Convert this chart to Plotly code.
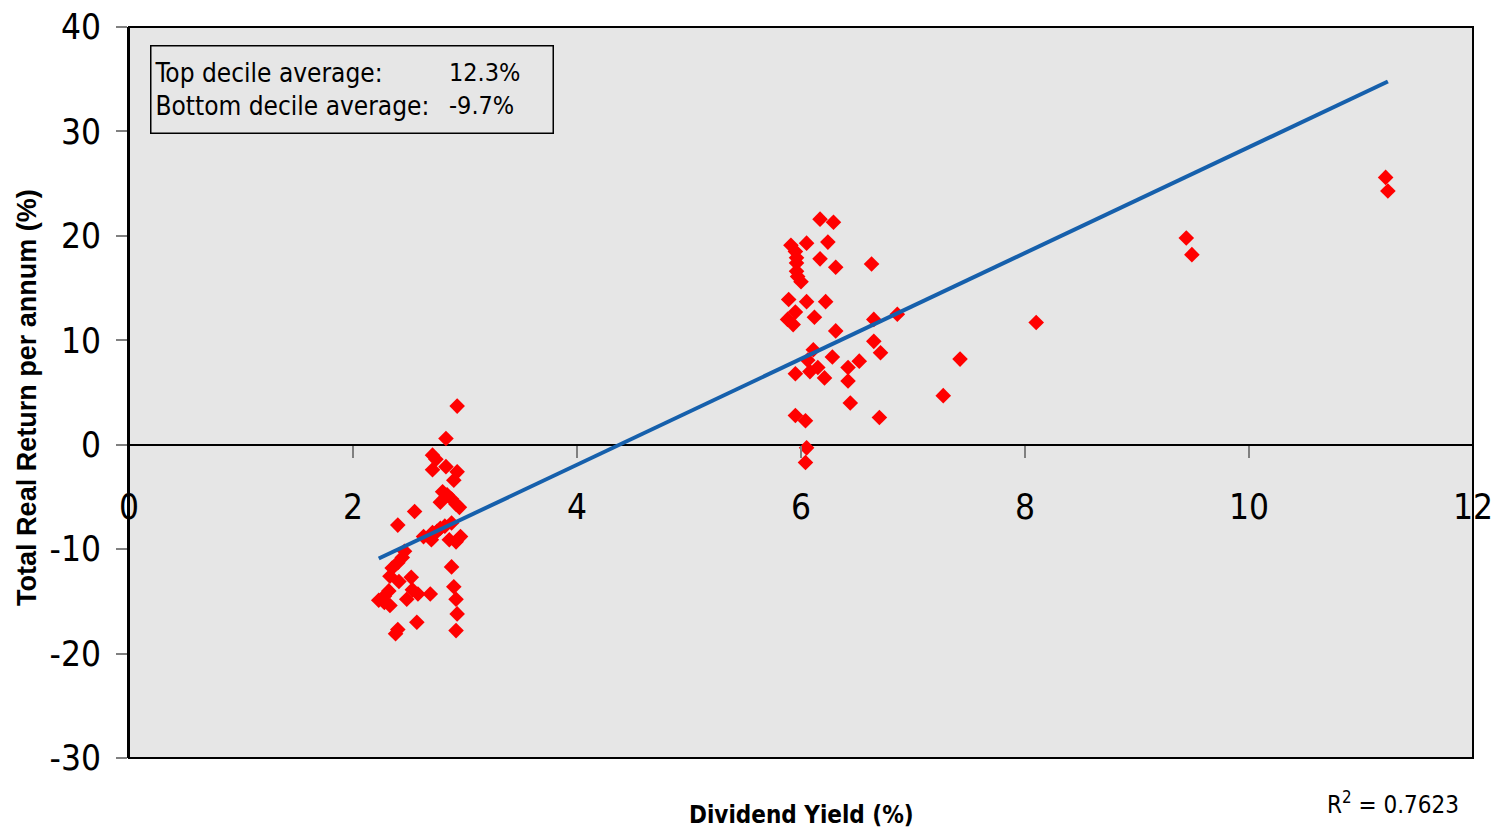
import plotly.graph_objects as go

# Dividend yield (%) and subsequent total real return per annum (%)
low_yield = [2.93, 2.83, 2.71, 2.74, 2.83, 2.71, 2.93, 2.90, 2.80, 2.84, 2.88, 2.78,
             2.92, 2.95, 2.55, 2.40, 2.88, 2.78, 2.71, 2.63, 2.70, 2.86, 2.96, 2.92,
             2.46, 2.44, 2.40, 2.35, 2.88, 2.33, 2.52, 2.41, 2.90, 2.53, 2.58, 2.69,
             2.32, 2.28, 2.23, 2.48, 2.92, 2.33, 2.28, 2.93, 2.57, 2.40, 2.92, 2.38,
             2.82, 2.75]
low_return = [3.7, 0.6, -1.0, -1.4, -2.1, -2.4, -2.6, -3.4, -4.5, -4.8, -5.2, -5.5,
              -5.7, -6.0, -6.4, -7.7, -7.5, -8.0, -8.4, -8.8, -9.1, -9.1, -8.8, -9.3,
              -10.2, -10.8, -11.3, -11.8, -11.7, -12.6, -12.7, -13.1, -13.6, -13.9, -14.3, -14.3,
              -14.0, -14.5, -14.9, -14.8, -14.8, -15.4, -15.1, -16.2, -17.0, -17.7, -17.8, -18.1,
              -7.8, -8.3]

mid_yield = [6.17, 6.29, 5.91, 6.05, 6.24, 5.95, 5.96, 6.17, 5.96, 6.31, 6.63, 5.96,
             5.97, 6.00, 5.89, 6.05, 6.22, 5.95, 5.88, 5.93, 6.12, 6.31, 6.65, 6.86,
             6.11, 6.06, 5.95, 6.08, 6.15, 6.21, 6.28, 6.42, 6.42, 6.52, 6.65, 6.71,
             6.44, 5.95, 6.04, 6.70, 6.05, 6.04]
mid_return = [21.6, 21.3, 19.1, 19.3, 19.4, 18.5, 17.9, 17.8, 17.4, 17.0, 17.3, 16.6,
              16.1, 15.6, 13.9, 13.7, 13.7, 12.7, 12.0, 11.5, 12.2, 10.9, 12.0, 12.5,
              9.1, 8.1, 6.8, 7.0, 7.4, 6.4, 8.4, 7.4, 6.1, 8.0, 9.9, 8.8,
              4.0, 2.8, 2.3, 2.6, -0.3, -1.7]

high_yield = [7.27, 7.42, 8.10, 9.44, 9.49, 11.22, 11.24]
high_return = [4.7, 8.2, 11.7, 19.8, 18.2, 25.6, 24.3]

# Linear trend (return = slope * yield + intercept) and its fit statistic
trend_slope = 5.07
trend_intercept = -22.2
r_squared = "0.7623"

top_decile_avg = "12.3%"
bottom_decile_avg = "-9.7%"

x_ticks = [0, 2, 4, 6, 8, 10, 12]
y_ticks = [40, 30, 20, 10, 0, -10, -20, -30]

yields = low_yield + mid_yield + high_yield
returns = low_return + mid_return + high_return

x_min, x_max = min(yields), max(yields)
trend_x = [x_min, x_max]
trend_y = [trend_slope * v + trend_intercept for v in trend_x]

NARROW = "DejaVu Sans Condensed, Liberation Sans Narrow, Arial Narrow, sans-serif"
PLAIN = "Liberation Sans, Arial, sans-serif"
PLOT_BG = "#e6e6e6"

fig = go.Figure()

fig.add_trace(go.Scatter(
    x=yields, y=returns, mode="markers",
    marker=dict(symbol="diamond", size=12, color="#ff0000", line=dict(width=0)),
    hoverinfo="x+y", showlegend=False,
))

fig.add_trace(go.Scatter(
    x=trend_x, y=trend_y, mode="lines",
    line=dict(color="#1660ac", width=4),
    hoverinfo="skip", showlegend=False,
))

zero_pos = (0 - (-30)) / (40 - (-30))

fig.update_layout(
    width=1495, height=833,
    margin=dict(l=129, r=22, t=27, b=75),
    paper_bgcolor="white",
    plot_bgcolor=PLOT_BG,
    xaxis=dict(
        range=[0, 12], tickvals=x_ticks, ticktext=[str(v) for v in x_ticks],
        anchor="free", position=zero_pos, automargin=False,
        showline=False, showgrid=False, zeroline=False,
        ticks="outside", ticklen=12, tickwidth=2, tickcolor="#808080",
        ticklabelstandoff=19,
        tickfont=dict(family=NARROW, size=35, color="black"),
    ),
    yaxis=dict(
        range=[-30, 40], tickvals=y_ticks, ticktext=[str(v) for v in y_ticks],
        automargin=False,
        showline=True, linecolor="black", linewidth=2,
        showgrid=False,
        zeroline=True, zerolinecolor="black", zerolinewidth=1.5,
        ticks="outside", ticklen=11, tickwidth=2, tickcolor="#808080",
        ticklabelstandoff=8,
        tickfont=dict(family=NARROW, size=35, color="black"),
    ),
    shapes=[dict(
        type="rect", xref="x domain", yref="y domain",
        x0=0, x1=1, y0=0, y1=1,
        line=dict(color="black", width=2), fillcolor="rgba(0,0,0,0)",
        layer="above",
    )],
    annotations=[
        dict(
            text="Top decile average:<br>Bottom decile average:",
            xref="paper", yref="paper", x=0.0156, y=0.9754,
            xanchor="left", yanchor="top", align="left", valign="middle",
            width=395, height=80, borderpad=3,
            bordercolor="black", borderwidth=1.5, bgcolor=PLOT_BG,
            font=dict(family=NARROW, size=26, color="black"),
            showarrow=False,
        ),
        dict(
            text=f"{top_decile_avg}<br>{bottom_decile_avg}",
            xref="paper", yref="paper", x=0.235, y=0.9754,
            xanchor="left", yanchor="top", align="left", valign="middle",
            height=80, borderpad=3,
            font=dict(family=NARROW, size=25, color="black"),
            showarrow=False,
        ),
        dict(
            text="Total Real Return per annum (%)",
            xref="paper", yref="paper", x=-0.0759, y=0.494,
            xanchor="center", yanchor="middle", textangle=-90,
            font=dict(family=PLAIN, size=27, color="black", weight="bold"),
            showarrow=False,
        ),
        dict(
            text="Dividend Yield (%)",
            xref="paper", yref="paper", x=(801 - 129) / 1344, y=-(815 - 758) / 731,
            xanchor="center", yanchor="middle",
            font=dict(family=NARROW, size=24, color="black", weight="bold"),
            showarrow=False,
        ),
        dict(
            text=f"R<sup>2</sup> = {r_squared}",
            xref="paper", yref="paper", x=(1461 - 129) / 1344, y=-(803 - 758) / 731,
            xanchor="right", yanchor="middle",
            font=dict(family=NARROW, size=24, color="black"),
            showarrow=False,
        ),
    ],
)

fig.write_html("out.html")
